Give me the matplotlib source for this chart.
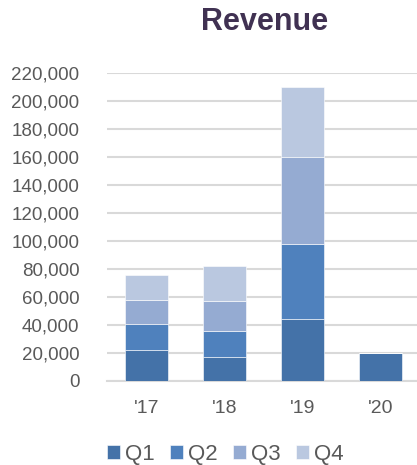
import matplotlib.pyplot as plt
import matplotlib.ticker as mticker
import numpy as np

plt.rcParams['font.family'] = ['Liberation Sans', 'DejaVu Sans']

# Data
years = ["'17", "'18", "'19", "'20"]
q1 = [22000, 17000, 44000, 20000]
q2 = [19000, 18500, 54000, 0]
q3 = [17000, 21500, 62000, 0]
q4 = [18000, 25000, 50000, 0]
quarters = ["Q1", "Q2", "Q3", "Q4"]
colors = ["#4472a8", "#4f81bd", "#95abd2", "#bac8e0"]

fig = plt.figure(figsize=(4.17, 4.65), dpi=100)
ax = fig.add_axes([0.257, 0.181, 0.743, 0.661])

x = np.arange(len(years))
bottom = np.zeros(len(years))
for name, vals, c in zip(quarters, [q1, q2, q3, q4], colors):
    vals = np.array(vals)
    ax.bar(x, vals, 0.55, bottom=bottom, color=c, label=name,
           edgecolor='white', linewidth=0.4, zorder=3)
    bottom += vals

ax.set_xlim(-0.5, 3.47)
ax.set_ylim(0, 220000)
ax.set_yticks(np.arange(0, 220001, 20000))
ax.yaxis.set_major_formatter(mticker.FuncFormatter(lambda v, p: f"{int(v):,}"))
ax.set_xticks(x)
ax.set_xticklabels(years)
ax.grid(axis='y', color='#d9d9d9', linewidth=1.5, zorder=0)
for s in ['top', 'right', 'left']:
    ax.spines[s].set_visible(False)
ax.spines['bottom'].set_color('#d9d9d9')
ax.spines['bottom'].set_linewidth(1.5)
ax.tick_params(axis='both', length=0, labelsize=13.5, colors='#595959')
ax.tick_params(axis='x', pad=14, labelsize=14)
ax.tick_params(axis='y', pad=20)

fig.text(0.635, 0.953, "Revenue", ha='center', va='center', fontsize=22,
         fontweight='bold', color='#403152')

fig.legend(loc='center', bbox_to_anchor=(0.54, 0.022), ncol=4, frameon=False,
           fontsize=16, labelcolor='#595959', handlelength=0.6, handleheight=0.6,
           handletextpad=0.2, columnspacing=0.7)

fig.savefig("out.png", dpi=100)
